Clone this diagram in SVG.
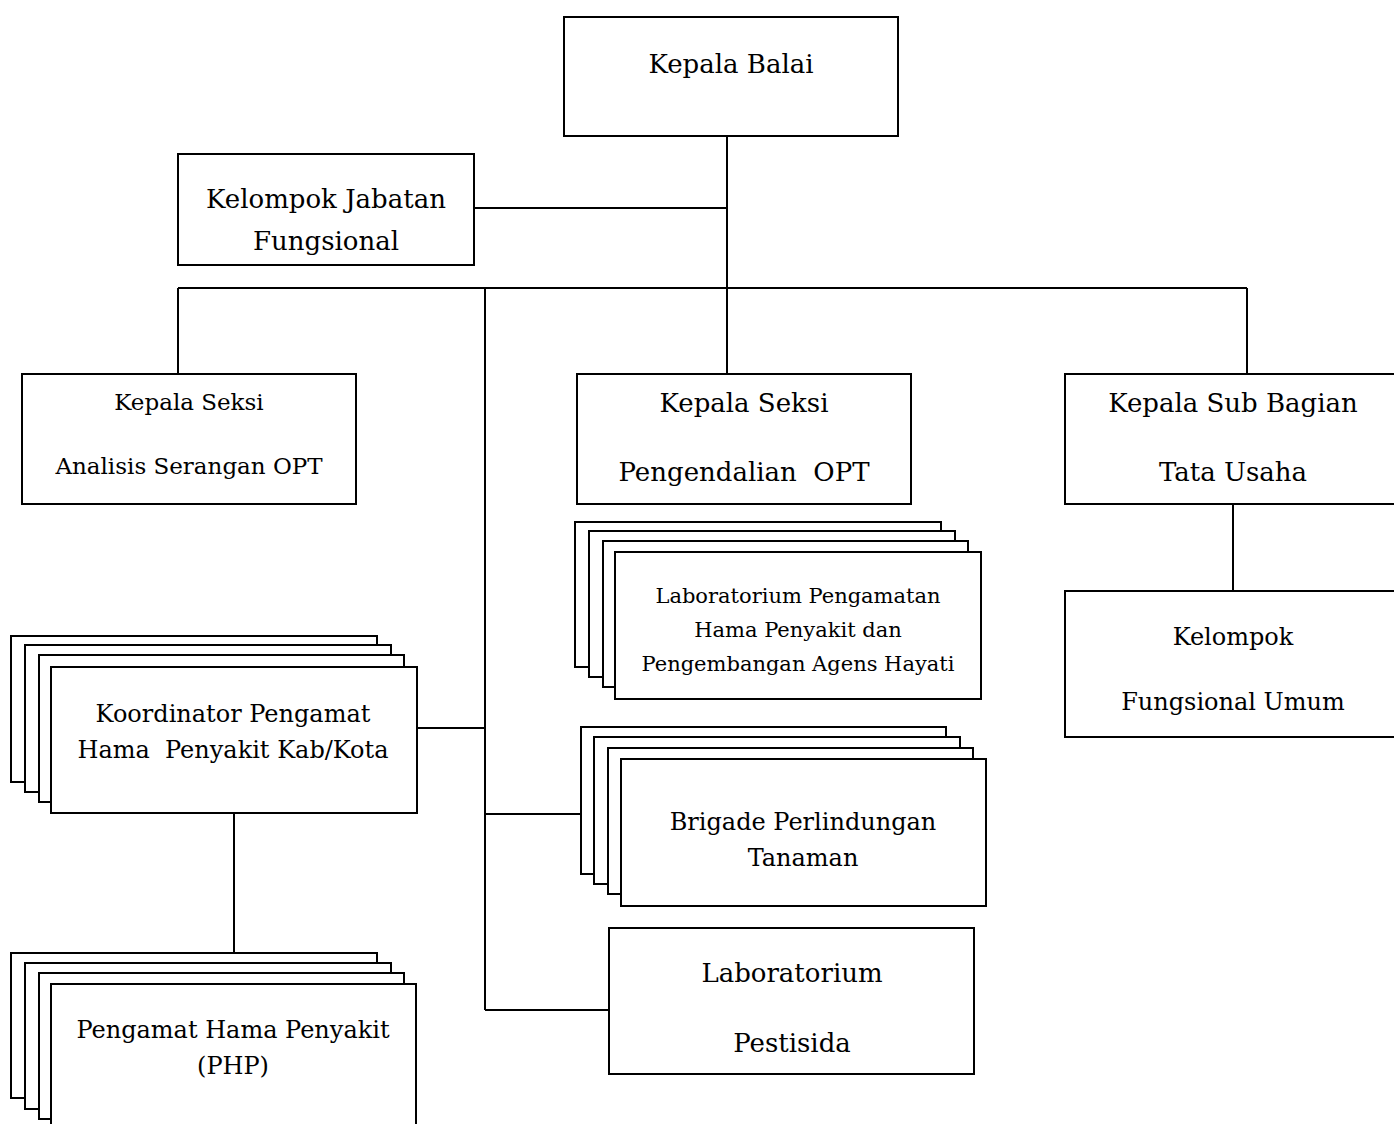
<svg xmlns="http://www.w3.org/2000/svg" width="1394" height="1124" viewBox="0 0 1394 1124">
<style>
.box{fill:#fff;stroke:#000;stroke-width:2}
.ln{stroke:#000;stroke-width:2;fill:none}
text{font-family:"DejaVu Serif","Liberation Serif",serif;fill:#000;text-anchor:middle}
.l{font-size:26px}
.m{font-size:24px}
.a{font-size:23px}
.s{font-size:21px}
</style>
<rect width="1394" height="1124" fill="#fff"/>
<g id="connectors">
<path class="ln" d="M727 136V288M474 208H727M178 288H1247M178 288V374M485 288V1010M727 288V374M1247 288V374M1233 504V591M417 728H485M485 814H581M485 1010H609M234 813V954"/>
</g>
<g id="kepala-balai">
<rect class="box" x="564" y="17" width="334" height="119"/>
<text class="l" x="731" y="73">Kepala Balai</text>
</g>
<g id="kelompok-jabatan">
<rect class="box" x="178" y="154" width="296" height="111"/>
<text class="l" x="326" y="208">Kelompok Jabatan</text>
<text class="l" x="326" y="250">Fungsional</text>
</g>
<g id="seksi-analisis">
<rect class="box" x="22" y="374" width="334" height="130"/>
<text class="a" x="189" y="410">Kepala Seksi</text>
<text class="a" x="189" y="474">Analisis Serangan OPT</text>
</g>
<g id="seksi-pengendalian">
<rect class="box" x="577" y="374" width="334" height="130"/>
<text class="l" x="744" y="412">Kepala Seksi</text>
<text class="l" x="744" y="481" xml:space="preserve">Pengendalian  OPT</text>
</g>
<g id="subbag-tu">
<rect class="box" x="1065" y="374" width="340" height="130"/>
<text class="l" x="1233" y="412">Kepala Sub Bagian</text>
<text class="l" x="1233" y="481">Tata Usaha</text>
</g>
<g id="fungsional-umum">
<rect class="box" x="1065" y="591" width="340" height="146"/>
<text class="m" x="1233" y="645">Kelompok</text>
<text class="m" x="1233" y="710">Fungsional Umum</text>
</g>
<g id="lab-pengamatan">
<rect class="box" x="575" y="522" width="366" height="145"/>
<rect class="box" x="589" y="531" width="366" height="146"/>
<rect class="box" x="603" y="541" width="365" height="146"/>
<rect class="box" x="615" y="552" width="366" height="147"/>
<text class="s" x="798" y="603">Laboratorium Pengamatan</text>
<text class="s" x="798" y="637">Hama Penyakit dan</text>
<text class="s" x="798" y="671">Pengembangan Agens Hayati</text>
</g>
<g id="brigade">
<rect class="box" x="581" y="727" width="365" height="147"/>
<rect class="box" x="594" y="737" width="366" height="147"/>
<rect class="box" x="608" y="748" width="365" height="146"/>
<rect class="box" x="621" y="759" width="365" height="147"/>
<text class="m" x="803" y="830">Brigade Perlindungan</text>
<text class="m" x="803" y="866">Tanaman</text>
</g>
<g id="lab-pestisida">
<rect class="box" x="609" y="928" width="365" height="146"/>
<text class="l" x="792" y="982">Laboratorium</text>
<text class="l" x="792" y="1052">Pestisida</text>
</g>
<g id="koordinator">
<rect class="box" x="11" y="636" width="366" height="146"/>
<rect class="box" x="25" y="645" width="366" height="147"/>
<rect class="box" x="39" y="655" width="365" height="147"/>
<rect class="box" x="51" y="667" width="366" height="146"/>
<text class="m" x="233" y="722">Koordinator Pengamat</text>
<text class="m" x="233" y="758" xml:space="preserve">Hama  Penyakit Kab/Kota</text>
</g>
<g id="php">
<rect class="box" x="11" y="953" width="366" height="145"/>
<rect class="box" x="25" y="963" width="366" height="146"/>
<rect class="box" x="39" y="973" width="365" height="146"/>
<rect class="box" x="51" y="984" width="365" height="160"/>
<text class="m" x="233" y="1038">Pengamat Hama Penyakit</text>
<text class="m" x="233" y="1074">(PHP)</text>
</g>
</svg>
